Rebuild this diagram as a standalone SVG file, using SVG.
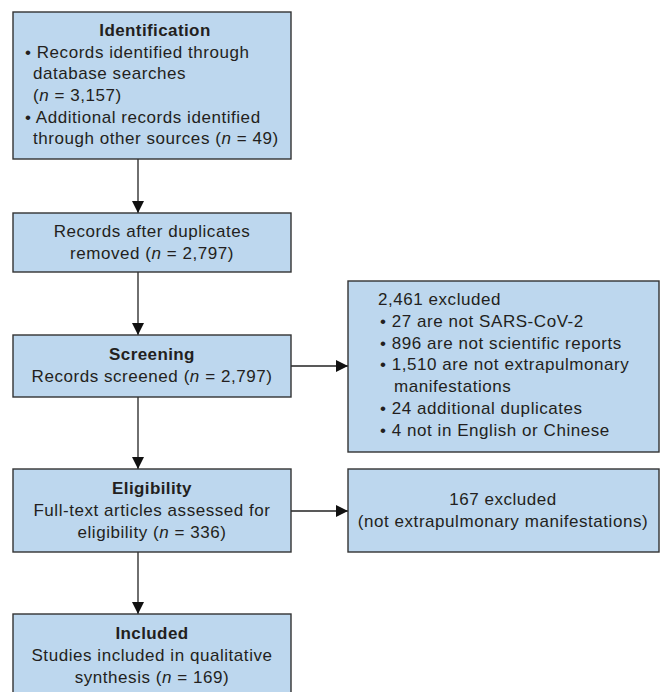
<svg xmlns="http://www.w3.org/2000/svg" width="661" height="692" viewBox="0 0 661 692">
<style>
.box{fill:#bdd7ee;stroke:#333333;stroke-width:1.4}
text{font-family:"Liberation Sans",Arial,sans-serif;font-size:17px;letter-spacing:0.55px;fill:#231f20}
.b{font-weight:bold;letter-spacing:0.4px}
.m{text-anchor:middle}
.c{stroke:#222;stroke-width:1.3;fill:none}
</style>
<defs>
<marker id="ah" markerWidth="12" markerHeight="12" refX="12" refY="6" orient="auto" markerUnits="userSpaceOnUse">
<path d="M0,0 L12,6 L0,12 Z" fill="#111"/>
</marker>
</defs>
<g id="connectors">
<line class="c" x1="138" y1="159" x2="138" y2="213" marker-end="url(#ah)"/>
<line class="c" x1="138" y1="272" x2="138" y2="335" marker-end="url(#ah)"/>
<line class="c" x1="138" y1="397" x2="138" y2="469" marker-end="url(#ah)"/>
<line class="c" x1="138" y1="552" x2="138" y2="614" marker-end="url(#ah)"/>
<line class="c" x1="291" y1="366" x2="348" y2="366" marker-end="url(#ah)"/>
<line class="c" x1="291" y1="511" x2="348" y2="511" marker-end="url(#ah)"/>
</g>
<g id="identification">
<rect class="box" x="13" y="12" width="278" height="147"/>
<text class="b m" x="155" y="36">Identification</text>
<text x="25" y="58">• Records identified through</text>
<text x="33" y="79">database searches</text>
<text x="33" y="101">(<tspan font-style="italic">n</tspan> = 3,157)</text>
<text x="25" y="123">• Additional records identified</text>
<text x="33" y="144">through other sources (<tspan font-style="italic">n</tspan> = 49)</text>
</g>
<g id="duplicates">
<rect class="box" x="13" y="213" width="278" height="59"/>
<text class="m" x="152" y="237">Records after duplicates</text>
<text class="m" x="152" y="259">removed (<tspan font-style="italic">n</tspan> = 2,797)</text>
</g>
<g id="screening">
<rect class="box" x="13" y="335" width="278" height="62"/>
<text class="b m" x="152" y="360">Screening</text>
<text class="m" x="152" y="382">Records screened (<tspan font-style="italic">n</tspan> = 2,797)</text>
</g>
<g id="excluded1">
<rect class="box" x="348" y="281" width="311" height="171"/>
<text x="378" y="305">2,461 excluded</text>
<text x="380" y="327">• 27 are not SARS-CoV-2</text>
<text x="380" y="349">• 896 are not scientific reports</text>
<text x="380" y="370">• 1,510 are not extrapulmonary</text>
<text x="394" y="392">manifestations</text>
<text x="380" y="414">• 24 additional duplicates</text>
<text x="380" y="436">• 4 not in English or Chinese</text>
</g>
<g id="eligibility">
<rect class="box" x="13" y="469" width="278" height="83"/>
<text class="b m" x="152" y="494">Eligibility</text>
<text class="m" x="152" y="516">Full-text articles assessed for</text>
<text class="m" x="152" y="538">eligibility (<tspan font-style="italic">n</tspan> = 336)</text>
</g>
<g id="excluded2">
<rect class="box" x="348" y="469" width="311" height="83"/>
<text class="m" x="503" y="505">167 excluded</text>
<text class="m" x="503" y="527">(not extrapulmonary manifestations)</text>
</g>
<g id="included">
<rect class="box" x="13" y="614" width="278" height="82"/>
<text class="b m" x="152" y="639">Included</text>
<text class="m" x="152" y="661">Studies included in qualitative</text>
<text class="m" x="152" y="683">synthesis (<tspan font-style="italic">n</tspan> = 169)</text>
</g>
</svg>
